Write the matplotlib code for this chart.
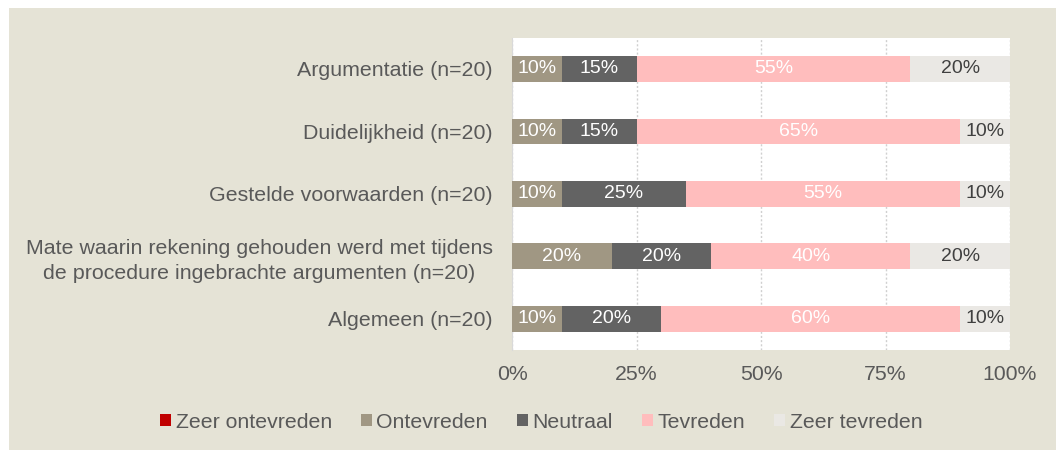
import matplotlib.pyplot as plt
from matplotlib.patches import Rectangle, Patch

plt.rcParams['font.family'] = ['Liberation Sans', 'DejaVu Sans']

categorieen = [
    "Argumentatie (n=20)",
    "Duidelijkheid (n=20)",
    "Gestelde voorwaarden (n=20)",
    "Mate waarin rekening gehouden werd met tijdens\nde procedure ingebrachte argumenten (n=20)",
    "Algemeen (n=20)",
]
zeer_ontevreden = [0, 0, 0, 0, 0]
ontevreden = [10, 10, 10, 20, 10]
neutraal = [15, 15, 25, 20, 20]
tevreden = [55, 65, 55, 40, 60]
zeer_tevreden = [20, 10, 10, 20, 10]

reeksen = ["Zeer ontevreden", "Ontevreden", "Neutraal", "Tevreden", "Zeer tevreden"]
kleuren = ["#C00000", "#A09783", "#636363", "#FFBDBD", "#EAE8E4"]
tekstkleur = ["white", "white", "white", "white", "#404040"]

grijs = "#595959"

fig = plt.figure(figsize=(10.56, 4.5), dpi=100, facecolor="white")
fig.patches.append(Rectangle((9 / 1056, 0), 1, 1 - 8 / 450, transform=fig.transFigure,
                             facecolor="#E5E3D6", edgecolor="none", zorder=-10))

ax = fig.add_axes([512 / 1056, 1 - 350 / 450, (1010 - 512) / 1056, (350 - 37.6) / 450])
ax.set_facecolor("white")

y = list(range(len(categorieen)))
links = [0] * len(categorieen)
data = [zeer_ontevreden, ontevreden, neutraal, tevreden, zeer_tevreden]
for waarden, kleur, tk in zip(data, kleuren, tekstkleur):
    bars = ax.barh(y, waarden, left=links, height=0.41, color=kleur, edgecolor="none", zorder=3)
    for b, w in zip(bars, waarden):
        if w > 0:
            ax.text(b.get_x() + w / 2, b.get_y() + b.get_height() / 2, f"{w}%",
                    ha="center", va="center", color=tk, fontsize=14, zorder=4)
    links = [l + w for l, w in zip(links, waarden)]

ax.set_xlim(0, 100)
ax.set_ylim(4.5, -0.5)
ax.set_xticks([0, 25, 50, 75, 100])
ax.set_xticklabels(["0%", "25%", "50%", "75%", "100%"])
ax.set_yticks(y)
ax.set_yticklabels(categorieen, multialignment="center", linespacing=1.35)
ax.tick_params(axis="both", length=0, colors=grijs)
ax.tick_params(axis="x", pad=11, labelsize=15.3)
ax.tick_params(axis="y", pad=14, labelsize=15.4)
ax.xaxis.grid(True, linestyle=(0, (1.5, 1.5)), color="#D0D0D0", linewidth=1, zorder=0)
ax.set_axisbelow(True)
for s in ["top", "right", "bottom"]:
    ax.spines[s].set_visible(False)
ax.spines["left"].set_color("#D9D9D9")

handles = [Patch(facecolor=k, edgecolor="none") for k in kleuren]
fig.legend(handles, reeksen, loc="center", bbox_to_anchor=(541 / 1056, 1 - 422 / 450),
           ncol=5, frameon=False, fontsize=15.3, labelcolor=grijs,
           handlelength=0.55, handleheight=0.55, handletextpad=0.2, columnspacing=1.35)

fig.savefig("out.png", dpi=100, facecolor="white")
